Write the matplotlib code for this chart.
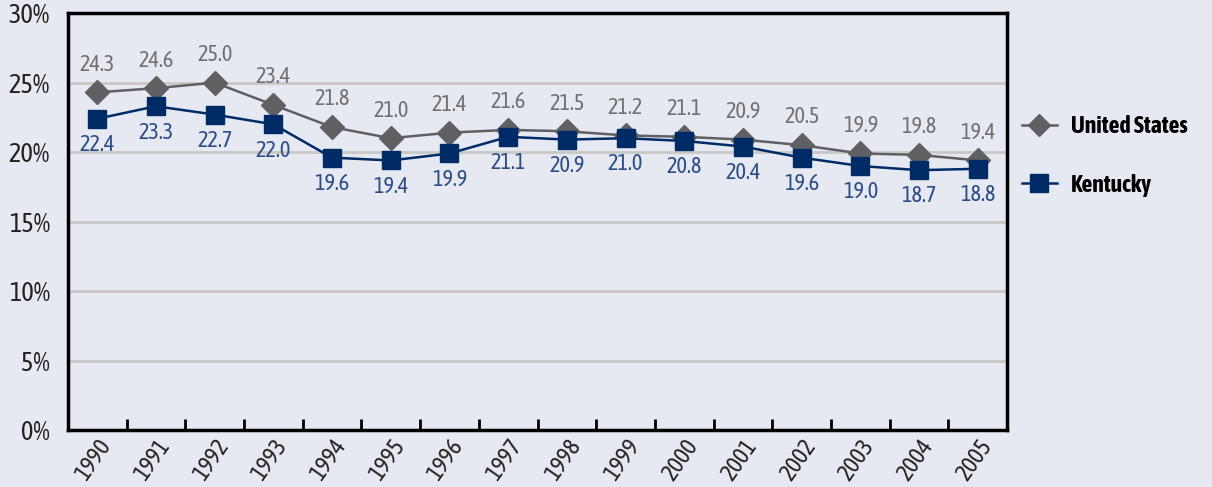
import matplotlib.pyplot as plt
from matplotlib.lines import Line2D

years = ["1990", "1991", "1992", "1993", "1994", "1995", "1996", "1997",
         "1998", "1999", "2000", "2001", "2002", "2003", "2004", "2005"]
us_values = [24.3, 24.6, 25.0, 23.4, 21.8, 21.0, 21.4, 21.6,
             21.5, 21.2, 21.1, 20.9, 20.5, 19.9, 19.8, 19.4]
ky_values = [22.4, 23.3, 22.7, 22.0, 19.6, 19.4, 19.9, 21.1,
             20.9, 21.0, 20.8, 20.4, 19.6, 19.0, 18.7, 18.8]

bg = "#e6e9f1"
us_color = "#5f6062"
ky_color = "#002b66"

plt.rcParams["font.family"] = ["Asap Condensed", "DejaVu Sans"]

fig = plt.figure(figsize=(12.12, 4.87), dpi=100, facecolor=bg)
ax = fig.add_axes([0.056, 0.117, 0.775, 0.856], facecolor=bg)

x = list(range(len(years)))
ax.plot(x, us_values, color=us_color, lw=1.8, marker="D", ms=12, zorder=3)
ax.plot(x, ky_values, color=ky_color, lw=1.8, marker="s", ms=13, zorder=4)

for xi, v in zip(x, us_values):
    ax.annotate(f"{v:.1f}", (xi, v), xytext=(0, 12), textcoords="offset points",
                ha="center", va="bottom", fontsize=16, color="#707173")
for xi, v in zip(x, ky_values):
    ax.annotate(f"{v:.1f}", (xi, v), xytext=(0, -11), textcoords="offset points",
                ha="center", va="top", fontsize=16, color="#2b4c85")

ax.set_xlim(-0.5, len(years) - 0.5)
ax.set_ylim(0, 30)
ax.set_yticks(range(0, 31, 5))
ax.set_yticklabels([f"{t}%" for t in range(0, 31, 5)], fontsize=19, color="#222222")
ax.tick_params(axis="y", length=0, pad=13)
ax.yaxis.grid(True, color="#c8c8c8", lw=2)
ax.set_axisbelow(True)

# category labels centred, tick marks on the boundaries
ax.set_xticks(x)
ax.set_xticklabels(years, rotation=55, ha="right", rotation_mode="anchor",
                   fontsize=17, color="#222222")
ax.tick_params(axis="x", which="major", length=0, pad=4)
ax.set_xticks([i + 0.5 for i in x[:-1]], minor=True)
ax.tick_params(axis="x", which="minor", direction="in", length=8, width=2, color="black")

for s in ax.spines.values():
    s.set_linewidth(2.5)
    s.set_color("black")

handles = [
    Line2D([], [], color=us_color, lw=1.8, marker="D", ms=11),
    Line2D([], [], color=ky_color, lw=1.8, marker="s", ms=12.5),
]
fig.legend(handles, ["United States", "Kentucky"], loc="center left",
           bbox_to_anchor=(0.843, 0.68), frameon=False, labelspacing=1.5,
           borderpad=0, borderaxespad=0, handlelength=1.5, handletextpad=0.6,
           prop={"size": 17, "weight": "bold"})

fig.savefig("out.png", dpi=100, facecolor=bg)
